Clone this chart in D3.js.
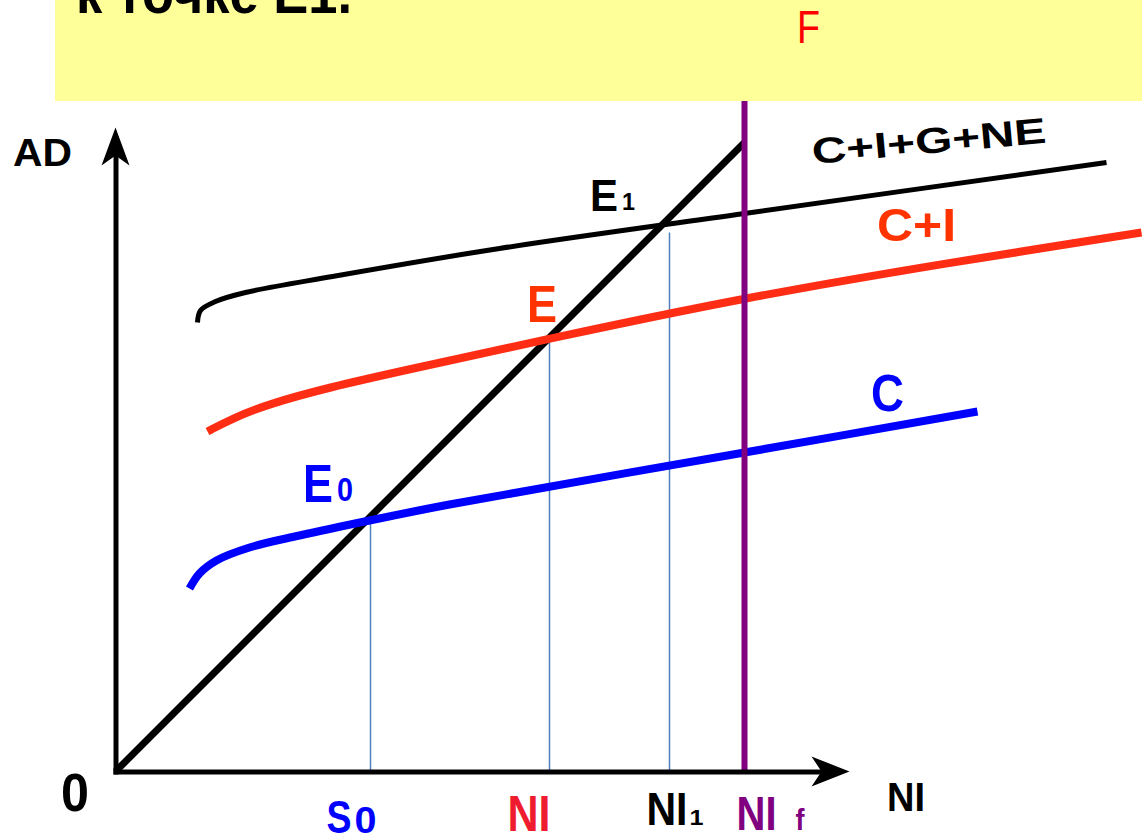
<!DOCTYPE html>
<html>
<head>
<meta charset="utf-8">
<script src="https://cdn.jsdelivr.net/npm/d3@7"></script>
<style>
  html, body { margin: 0; padding: 0; background: #ffffff; overflow: hidden; }
  svg { display: block; }
  text { font-family: "Liberation Sans", Arial, Helvetica, sans-serif; }
</style>
</head>
<body>
<svg id="chart" width="1142" height="837"></svg>
<script>
// ---- data (national income NI on x, aggregate demand AD on y) ----
const curveC      = [[74,183],[84,198],[101,211],[134,224],[184,236],[254,251],[334,267],[629,319],[862,360]];
const curveCI     = [[92,340],[117,353],[151,367],[217,385],[284,400],[434,433],[629,474],[834,509],[1026,539]];
const curveCIGNE  = [[82,449],[85,461],[100,470],[130,479],[217,495],[384,523],[629,558],[991,609]];
const line45      = [[0,0],[629,629]];
const dropX       = [255, 434, 554];          // S0, NI, NI1
const dropTop     = [251, 433, 539];          // equilibrium AD levels E0, E, E1
const fullEmpNI   = 629;                      // NI f
const fullEmpTop  = 671;
const xMax = 734, yMax = 644;
const tickLabels  = ["S", "NI", "NI", "NI"];
const tickSubs    = ["0", "", "1", "f"];
const pointLabels = ["E", "E", "E"];
const pointSubs   = ["0", "", "1"];
const curveNames  = ["C", "C+I", "C+I+G+NE"];
const headerText  = "к точке Е1.";
const headerMark  = "F";

// ---- scales ----
const svg = d3.select("#chart");
const x = d3.scaleLinear().domain([0, xMax]).range([115.5, 849.5]);
const y = d3.scaleLinear().domain([0, yMax]).range([771.5, 127.5]);

const line = d3.line().x(d => x(d[0])).y(d => y(d[1])).curve(d3.curveCatmullRom.alpha(0.5));
const smoothLine = d3.line().x(d => x(d[0])).y(d => y(d[1])).curve(d3.curveBasis);

function label(g, txt, px, py, size, width, color, weight) {
  return g.append("text")
    .attr("x", px).attr("y", py)
    .attr("font-size", size)
    .attr("font-weight", weight || "bold")
    .attr("fill", color)
    .attr("textLength", width)
    .attr("lengthAdjust", "spacingAndGlyphs")
    .text(txt);
}

// drop lines
svg.append("g").selectAll("line").data(dropX).join("line")
  .attr("x1", d => x(d)).attr("x2", d => x(d))
  .attr("y1", (d, i) => y(dropTop[i])).attr("y2", y(0))
  .attr("stroke", "#4f81bd").attr("stroke-width", 1.5);

// 45 degree line
svg.append("path").datum(line45)
  .attr("d", d3.line().x(d => x(d[0])).y(d => y(d[1])))
  .attr("fill", "none").attr("stroke", "#000").attr("stroke-width", 7);

// AD curves
svg.append("path").datum(curveCIGNE).attr("d", line)
  .attr("fill", "none").attr("stroke", "#000").attr("stroke-width", 5);
svg.append("path").datum(curveCI).attr("d", smoothLine)
  .attr("fill", "none").attr("stroke", "#ff2d14").attr("stroke-width", 8);
svg.append("path").datum(curveC).attr("d", line)
  .attr("fill", "none").attr("stroke", "#0000ff").attr("stroke-width", 8);

// full employment line
svg.append("line")
  .attr("x1", x(fullEmpNI)).attr("x2", x(fullEmpNI))
  .attr("y1", y(0)).attr("y2", y(fullEmpTop))
  .attr("stroke", "#800080").attr("stroke-width", 6);

// axes (no ticks) with arrowheads
const xAxisScale = x.copy().domain([-2.5, xMax - 20]).range([x(-2.5), x(xMax - 20)]);
const yAxisScale = y.copy().domain([-2.5, yMax - 12]).range([y(-2.5), y(yMax - 12)]);
svg.append("g").attr("transform", `translate(0,${y(0)})`)
  .call(d3.axisBottom(xAxisScale).tickValues([]).tickSizeOuter(0))
  .call(g => g.select(".domain").attr("stroke", "#000").attr("stroke-width", 5));
svg.append("g").attr("transform", `translate(${x(0)},0)`)
  .call(d3.axisLeft(yAxisScale).tickValues([]).tickSizeOuter(0))
  .call(g => g.select(".domain").attr("stroke", "#000").attr("stroke-width", 5));

const tx = x(xMax), ty = y(0);
svg.append("path")
  .attr("d", `M${tx},${ty} L${tx-38},${ty-15} L${tx-28},${ty} L${tx-38},${ty+15} Z`)
  .attr("fill", "#000");
const ax = x(0), ay = y(yMax);
svg.append("path")
  .attr("d", `M${ax},${ay} L${ax-14},${ay+38} L${ax},${ay+28} L${ax+14},${ay+38} Z`)
  .attr("fill", "#000");

// header box
svg.append("rect").attr("x", 55).attr("y", 0).attr("width", 1087).attr("height", 101)
  .attr("fill", "#ffff99");
label(svg, headerText, 76, 13, 58, 276, "#000");
label(svg, headerMark, 797, 43, 47, 23, "#ff0000", "normal");

// axis titles
const T = svg.append("g");
label(T, "AD", 13, 166, 39, 59, "#000");
label(T, "NI", 887, 811, 40, 38, "#000");
label(T, "0", 61, 811, 54, 28, "#000");

// tick labels under x axis
const tickColors = ["#0000ff", "#ee1c2e", "#000000", "#800080"];
const tickNI = [dropX[0], dropX[1], dropX[2], fullEmpNI];
const tickSpec = [
  {dx: -44, base: 833, size: 47, w: 25, sdx: 3, sbase: 833, ssize: 36, sw: 22},
  {dx: -42, base: 831, size: 50, w: 43, sdx: 0, sbase: 831, ssize: 1,  sw: 1},
  {dx: -23, base: 825, size: 46, w: 41, sdx: 2, sbase: 825, ssize: 22, sw: 14},
  {dx: -8,  base: 830, size: 49, w: 40, sdx: 19, sbase: 830, ssize: 30, sw: 9}
];
tickLabels.forEach((t, i) => {
  const s = tickSpec[i];
  const px = x(tickNI[i]) + s.dx;
  label(T, t, px, s.base, s.size, s.w, tickColors[i]);
  if (tickSubs[i]) label(T, tickSubs[i], px + s.w + s.sdx, s.sbase, s.ssize, s.sw, tickColors[i]);
});

// equilibrium point labels
const ptColors = ["#0000ff", "#ff3300", "#000000"];
const ptSpec = [
  {dx: -67.5, base: 502, size: 54, w: 30, sdx: 4, ssize: 33, sw: 16},
  {dx: -22.5, base: 322, size: 52, w: 30, sdx: 0, ssize: 1, sw: 1},
  {dx: -79.5, base: 211, size: 44, w: 28, sdx: 4, ssize: 23, sw: 13}
];
pointLabels.forEach((t, i) => {
  const s = ptSpec[i];
  const px = x(dropX[i]) + s.dx;
  label(T, t, px, s.base, s.size, s.w, ptColors[i]);
  if (pointSubs[i]) label(T, pointSubs[i], px + s.w + s.sdx, s.base - 1, s.ssize, s.sw, ptColors[i]);
});

// curve names
label(T, curveNames[0], 871, 411, 52, 33, "#0000ff");
label(T, curveNames[1], 877, 241, 47, 79, "#ff3300");
label(T, curveNames[2], 0, 0, 36, 235, "#000")
  .attr("transform", "translate(813,164) rotate(-5.2)");
</script>
</body>
</html>
